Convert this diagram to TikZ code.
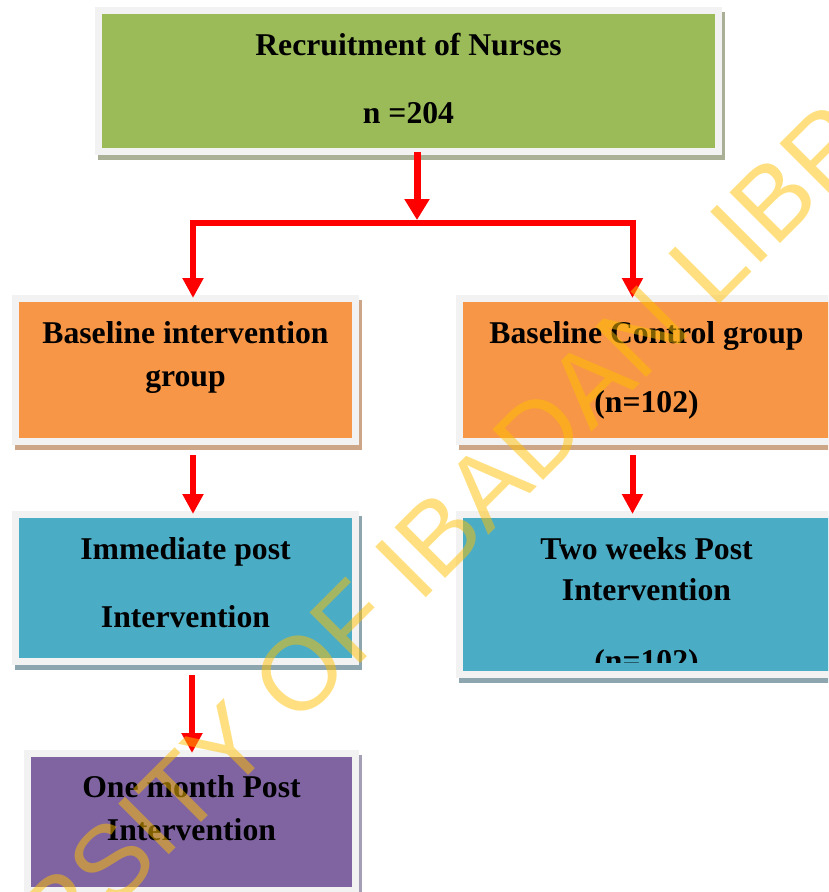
\documentclass[tikz,border=0pt]{standalone}
\usepackage{fontspec}
\setmainfont{Liberation Serif}
\newfontfamily\wmfont{Liberation Sans}
\usepackage{tikz}
\usetikzlibrary{positioning, arrows.meta, shadows}

\definecolor{framegray}{HTML}{F2F2F2}
\definecolor{boxgreen}{HTML}{9BBB59}
\definecolor{boxgreensh}{HTML}{A9B096}
\definecolor{boxorange}{HTML}{F79646}
\definecolor{boxorangesh}{HTML}{CDA587}
\definecolor{boxblue}{HTML}{4BACC6}
\definecolor{boxbluesh}{HTML}{8CA5AF}
\definecolor{boxpurple}{HTML}{8064A2}
\definecolor{boxpurplesh}{HTML}{A59FB5}
\definecolor{wmyellow}{HTML}{FFC000}

\tikzstyle{flow} = [line width=6pt, red, -{Triangle[width=20pt,length=20pt]}]
\tikzstyle{boxtext} = [font=\bfseries\fontsize{31.7}{38}\selectfont, align=center, inner sep=0pt]
\tikzstyle{wmark} = [font=\wmfont\fontsize{104}{110}\selectfont, text=wmyellow, text opacity=0.5, inner sep=0pt]

\tikzset{
  panel/.style 2 args={fill=framegray, inner sep=0pt, outer sep=0pt,
    drop shadow={shadow xshift=3pt, shadow yshift=-5pt, fill=#2, opacity=1},
    path picture={\fill[#1] ([shift={(7pt,7pt)}]path picture bounding box.south west)
      rectangle ([shift={(-7pt,-7pt)}]path picture bounding box.north east);}}
}

\begin{document}
\begin{tikzpicture}[x=1pt, y=-1pt, on grid]
  \useasboundingbox (0,0) rectangle (828,892);
  \clip (0,0) rectangle (828,892);

  % boxes
  \node[panel={boxgreen}{boxgreensh}, minimum width=627pt, minimum height=148pt] (recruit) at (408.5,81) {};
  \node[panel={boxorange}{boxorangesh}, minimum width=347pt, minimum height=150pt] (basI) [below left=289pt and 223pt of recruit] {};
  \node[panel={boxorange}{boxorangesh}, minimum width=381pt, minimum height=150pt] (basC) [right=461pt of basI] {};
  \node[panel={boxblue}{boxbluesh}, minimum width=347pt, minimum height=154pt] (immed) [below=218pt of basI] {};
  \node[panel={boxblue}{boxbluesh}, minimum width=381pt, minimum height=167pt] (twowk) [below=224.5pt of basC] {};
  \node[panel={boxpurple}{boxpurplesh}, minimum width=335pt, minimum height=144pt] (month) [below right=234pt and 6pt of immed] {};

  % texts
  \node[boxtext, anchor=north, below=26pt of recruit.north] (recruitTxt) {Recruitment of Nurses\\[30pt]n =204};
  \node[boxtext, anchor=north, below=26pt of basI.north] (basITxt) {Baseline intervention\\[5pt]group};
  \node[boxtext, anchor=north, below=26pt of basC.north] (basCTxt) {Baseline Control group\\[31pt](n=102)};
  \node[boxtext, anchor=north, below=26pt of immed.north] (immedTxt) {Immediate post\\[30pt]Intervention};
  \begin{scope}
    \clip (twowk.north west) rectangle ([yshift=16pt]twowk.south east);
    \node[boxtext, anchor=north, below=26pt of twowk.north] (twowkTxt) {Two weeks Post\\[3pt]Intervention\\[33pt](n=102)};
  \end{scope}
  \node[boxtext, anchor=north, below=25pt of month.north] (monthTxt) {One month Post\\[5pt]Intervention};

  % arrows
  \coordinate (split) at (417,223);
  \draw[flow, line width=7pt, -{Triangle[width=24pt,length=21pt]}] ([yshift=3pt]recruit.south -| split) -- ([yshift=3pt]split);
  \draw[flow] (split) -| ([shift={(7.5pt,-3pt)}]basI.north);
  \draw[flow] (split) -| ([shift={(-14pt,-3pt)}]basC.north);
  \draw[flow] ([shift={(7.5pt,-10pt)}]basI.south) -- ([shift={(7.5pt,-3pt)}]immed.north);
  \draw[flow] ([shift={(-14pt,-10pt)}]basC.south) -- ([shift={(-14pt,-3pt)}]twowk.north);
  \draw[flow] ([shift={(6.5pt,-10pt)}]immed.south) -- ([shift={(0.5pt,-3pt)}]month.north);

  % watermark
  \node[wmark, rotate=45, anchor=base west] (wm) at (-165,1189) {UNIVERSITY OF IBADAN LIBRARY};
\end{tikzpicture}
\end{document}
